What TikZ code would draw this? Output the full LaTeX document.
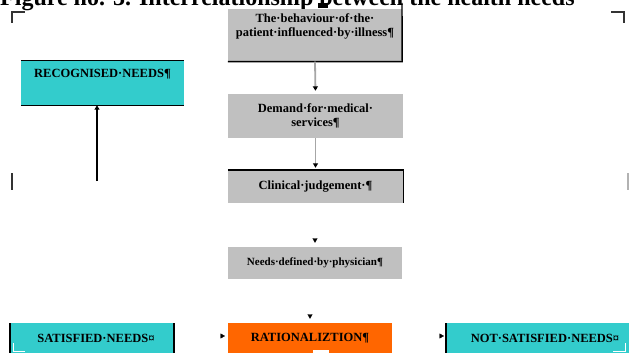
\documentclass[tikz,border=0pt]{standalone}
\usepackage{fontspec}
\setmainfont{Liberation Serif}
\usetikzlibrary{arrows.meta}
\definecolor{boxgray}{HTML}{C0C0C0}
\definecolor{boxcyan}{HTML}{33CCCC}
\definecolor{boxorange}{HTML}{FF6600}
\definecolor{markgray}{HTML}{333333}
\tikzset{
  boxtxt/.style={font=\fontsize{12.5}{14}\selectfont\bfseries, align=center, inner sep=0pt},
  gbox/.style={fill=boxgray, draw=none, inner sep=0pt},
  cbox/.style={fill=boxcyan, draw=none, inner sep=0pt},
  obox/.style={fill=boxorange, draw=none, inner sep=0pt},
  edge/.style={line width=1.4pt, draw=black},
  conn/.style={line width=1.8pt, draw=gray!70, -{Triangle[black,length=4.5pt,width=5pt]}},
  upconn/.style={line width=1.4pt, draw=black, -{Triangle[black,length=4.5pt,width=5pt]}},
  tiponly/.style={draw=white, line width=0.4pt, -{Triangle[black,length=4.5pt,width=5pt]}},
  cornermark/.style={line width=2pt, draw=markgray},
}
\begin{document}
\begin{tikzpicture}[x=1pt,y=-1pt]
\useasboundingbox (0,0) rectangle (629,353);
\clip (0,0) rectangle (629,353);
\fill[white] (0,0) rectangle (629,353);
% title (cut at top, as in the reference)
\node[anchor=base west, inner sep=0pt, font=\fontsize{24}{28}\selectfont\bfseries] (title) at (0,6) {Figure no. 3. Interrelationship between the health needs};
\fill[black] (318,3) rectangle (328,8);
% corner marks
\draw[cornermark] (12,23) -- (12,12) -- (25,12);
\draw[cornermark] (611,12) -- (624,12) -- (624,23);
\draw[cornermark] (12,173) -- (12,190);
\draw[cornermark, draw=gray!60] (628,173) -- (628,190);
% central column
\node[gbox, minimum width=174pt, minimum height=52pt] (b1) at (315,35.5) {};
\node[boxtxt] (b1t) at (315,26) {The·behaviour·of·the·\\patient·influenced·by·illness¶};
\draw[edge] (402,3) -- (b1.south east) -- (b1.south west);
\node[gbox, minimum width=175pt, minimum height=44pt, boxtxt] (b2) at (315.5,116) {Demand·for·medical·\\services¶};
\node[gbox, minimum width=175pt, minimum height=33pt, boxtxt] (b3) at (315.5,186.5) {Clinical·judgement·¶};
\draw[edge] (b3.north west) -- (b3.north east) -- (b3.south east);
\node[gbox, minimum width=174pt, minimum height=32pt, boxtxt, font=\fontsize{11}{13}\selectfont\bfseries] (b4) at (315,263) {Needs·defined·by·physician¶};
\node[obox, minimum width=164pt, minimum height=40pt] (b5) at (310,343) {};
\node[boxtxt] (b5t) at (310,338) {RATIONALIZTION¶};
\fill[white] (313,350) rectangle (329,354);
% side boxes
\node[cbox, minimum width=163pt, minimum height=44pt] (rec) at (102.5,83) {};
\node[boxtxt] (rect) at (102.5,74) {RECOGNISED·NEEDS¶};
\draw[edge] (rec.north west) -- (rec.north east);
\draw[edge] (rec.south west) -- (rec.south east);
\node[cbox, minimum width=164pt, minimum height=40pt] (sat) at (92,343) {};
\node[boxtxt] (satt) at (96,338) {SATISFIED·NEEDS¤};
\draw[edge] (10,323) -- (10,354);
\draw[edge] (174,323) -- (174,354);
\node[cbox, minimum width=185pt, minimum height=40pt] (nsat) at (538.5,343) {};
\node[boxtxt] (nsatt) at (545,338) {NOT·SATISFIED·NEEDS¤};
\draw[edge] (446,323) -- (446,354);
% small light marks at the bottom
\draw[white, line width=1pt] (13,343) -- (13,351) -- (25,351);
\draw[white, line width=1pt] (613,351) -- (625,351) -- (625,343);
% connectors
\draw[conn, shorten >=3pt] (b1.south) -- (b2.north);
\draw[conn, shorten >=2pt] (b2.south) -- (b3.north);
\draw[tiponly] ([yshift=9pt]b4.north) -- ([yshift=4pt]b4.north);
\draw[tiponly] ([yshift=9pt]b5.north) -- ([yshift=4pt]b5.north);
\coordinate (recfrom) at (97,181);
\draw[upconn] (recfrom) -- (rec.south -| recfrom);
\draw[tiponly] (214,336) -- (225,336);
\draw[tiponly] (433,336) -- (444,336);
\end{tikzpicture}
\end{document}
